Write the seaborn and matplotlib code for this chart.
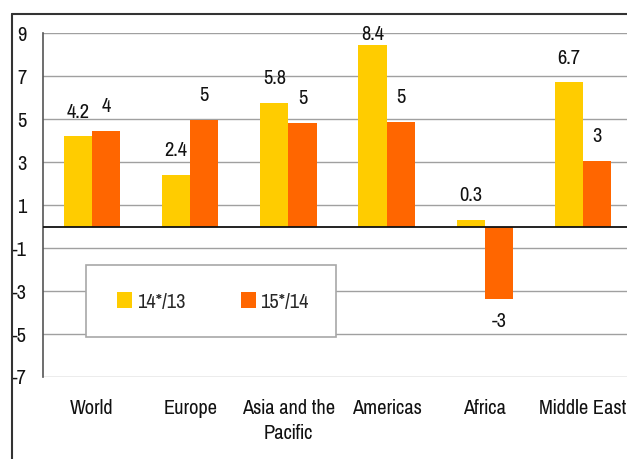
import matplotlib
matplotlib.use("Agg")
import matplotlib.pyplot as plt
import seaborn as sns
import pandas as pd
from matplotlib.patches import Rectangle
from matplotlib.lines import Line2D

categories = ["World", "Europe", "Asia and the\nPacific", "Americas", "Africa", "Middle East"]
series_names = ["14*/13", "15*/14"]
values_14_13 = [4.2, 2.4, 5.75, 8.45, 0.3, 6.7]
values_15_14 = [4.45, 4.97, 4.82, 4.87, -3.35, 3.05]
labels_14_13 = ["4.2", "2.4", "5.8", "8.4", "0.3", "6.7"]
labels_15_14 = ["4", "5", "5", "5", "-3", "3"]
yticks = [9, 7, 5, 3, 1, -1, -3, -5, -7]
colors = ["#FFCC00", "#FF6600"]

sns.set_style("white")
plt.rcParams["font.family"] = ["Pragati Narrow", "Roboto Condensed", "DejaVu Sans"]
FS = 16

df = pd.DataFrame({
    "category": categories * 2,
    "series": [series_names[0]] * len(categories) + [series_names[1]] * len(categories),
    "value": values_14_13 + values_15_14,
})

W, H = 627, 459
fig = plt.figure(figsize=(W / 100, H / 100), dpi=100)
ax = fig.add_axes([43 / W, 1 - 377 / H, (632 - 43) / W, (377 - 33) / H])

sns.barplot(data=df, x="category", y="value", hue="series", palette=colors,
            width=0.575, saturation=1, ax=ax, legend=False, errorbar=None,
            linewidth=0, zorder=3)

ax.set_ylim(-7, 9)
ax.set_xlim(-0.5, len(categories) - 0.5)
ax.set_yticks(yticks)
ax.set_yticklabels([str(t) for t in yticks], fontsize=FS, color="#111111")
ax.set_xlabel("")
ax.set_ylabel("")
ax.tick_params(axis="x", length=0, pad=16, labelsize=FS, colors="#111111")
for t in ax.get_xticklabels():
    t.set_linespacing(1.4)
ax.tick_params(axis="y", length=5, width=1, color="#555555", pad=7, direction="out")
ax.yaxis.grid(True, color="#A0A0A0", linewidth=1)
ax.set_axisbelow(True)
for s in ["top", "right", "bottom"]:
    ax.spines[s].set_visible(False)
ax.spines["left"].set_color("#555555")
ax.spines["left"].set_linewidth(1.2)
ax.axhline(0, color="#111111", linewidth=1.3, zorder=4)

# data labels
label_sets = [labels_14_13, labels_15_14]
for cont, labs in zip(ax.containers, label_sets):
    for bar, lab in zip(cont, labs):
        h = bar.get_height()
        x = bar.get_x() + bar.get_width() / 2
        y = h + 1.12 if h >= 0 else h - 1.07
        y = min(y, 8.95)
        ax.text(x, y, lab, ha="center", va="center", fontsize=FS, color="#111111", zorder=6)

# legend box
rect = Rectangle((86 / W, 1 - 337 / H), 250 / W, 72 / H, transform=fig.transFigure,
                 facecolor="white", edgecolor="#A8A8A8", linewidth=1.2, zorder=5)
ax.add_patch(rect)
rect.set_clip_on(False)
handles = [Rectangle((0, 0), 1, 1, facecolor=c, edgecolor="none") for c in colors]
leg = ax.legend(handles, series_names, loc="center",
                bbox_to_anchor=(213 / W, 1 - 302 / H), bbox_transform=fig.transFigure,
                ncol=2, frameon=False, fontsize=FS, handlelength=0.68, handleheight=0.68,
                handletextpad=0.2, columnspacing=2.5)
leg.set_zorder(6)

# outer frame
fig.add_artist(Line2D([12 / W, 12 / W], [0, 1 - 14 / H], transform=fig.transFigure,
                      color="#333333", linewidth=1.5))
fig.add_artist(Line2D([12 / W, 1], [1 - 14 / H, 1 - 14 / H], transform=fig.transFigure,
                      color="#333333", linewidth=1.5))

fig.savefig("out.png", dpi=100)
